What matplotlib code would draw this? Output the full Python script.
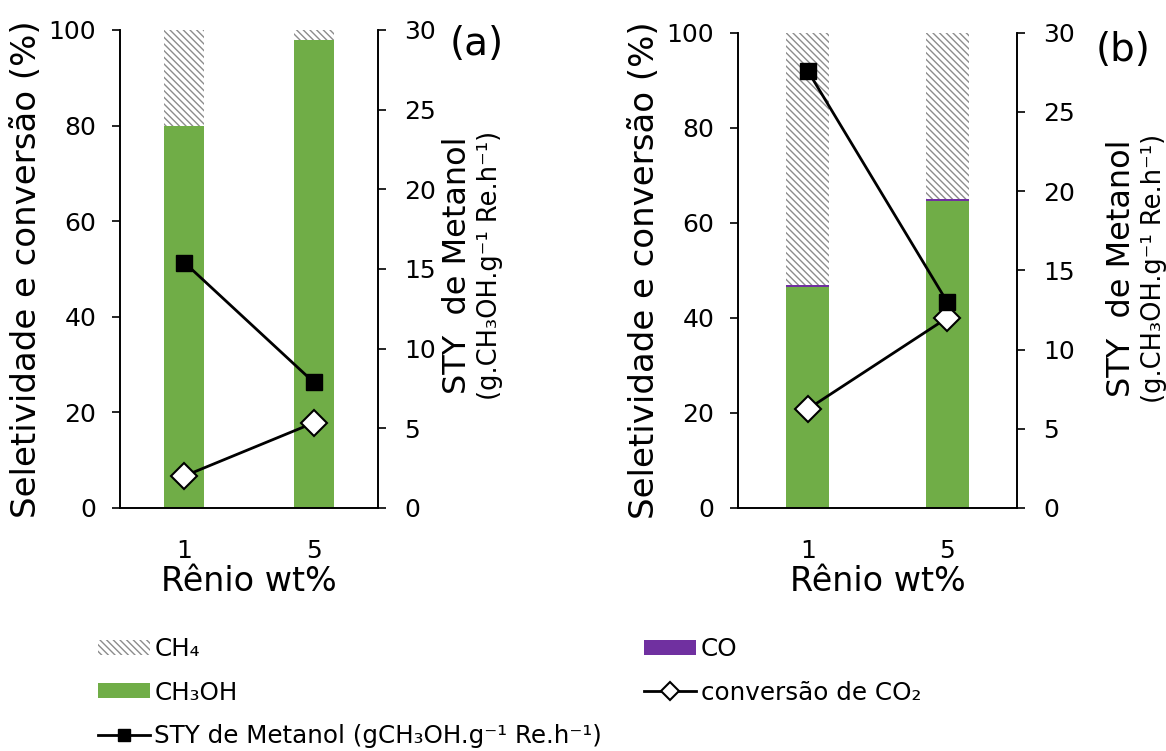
import numpy as np
import matplotlib
matplotlib.use('Agg')
import matplotlib.pyplot as plt

plt.rcParams['font.family'] = ['DejaVu Sans']
plt.rcParams['hatch.linewidth'] = 1.0

# data
renio = ['1', '5']
ch3oh_a = [80.0, 97.8]
co_a = [0.0, 0.0]
ch4_a = [20.0, 2.2]
sty_a = [15.4, 7.9]
conv_a = [6.7, 17.8]

ch3oh_b = [46.5, 64.6]
co_b = [0.5, 0.4]
ch4_b = [53.0, 35.0]
sty_b = [27.6, 13.0]
conv_b = [20.8, 40.0]

green = '#70AD47'
purple = '#7030A0'

fig = plt.figure(figsize=(11.66, 7.51), dpi=100)
ax_a = fig.add_axes([0.1029, 0.3236, 0.2213, 0.6365])
ax_b = fig.add_axes([0.6329, 0.3236, 0.2393, 0.6329])


def panel(ax, ch3oh, co, ch4, sty, conv):
    x = np.arange(len(renio))
    w = 0.31
    b1 = ax.bar(x, ch3oh, w, color=green, label='CH\u2083OH', zorder=2)
    b2 = ax.bar(x, co, w, bottom=ch3oh, color=purple, label='CO', zorder=2)
    bot = np.array(ch3oh) + np.array(co)
    b3 = ax.bar(x, ch4, w, bottom=bot, facecolor='white', edgecolor='#8c8c8c',
                linewidth=0, hatch='\\\\\\\\\\', label='CH\u2084', zorder=2)
    ax.set_ylim(0, 100)
    ax.set_xlim(-0.5, 1.5)
    ax.set_yticks(np.arange(0, 101, 20))
    ax.set_xticks(x)
    ax.set_xticklabels(renio)
    ax.tick_params(axis='x', length=0, labelsize=18, pad=22)
    ax.tick_params(axis='y', direction='out', length=6, width=1.2, labelsize=18, pad=11)
    ax.spines['top'].set_visible(False)
    for s in ['left', 'bottom', 'right']:
        ax.spines[s].set_linewidth(1.2)
    ax.set_xlabel('R\u00eanio wt%', fontsize=24, labelpad=2)
    ax.set_ylabel('Seletividade e convers\u00e3o (%)', fontsize=24.5, labelpad=4)

    l2, = ax.plot(x, conv, color='black', lw=2, marker='D', markersize=13,
                  markerfacecolor='white', markeredgecolor='black', markeredgewidth=1.5,
                  label='convers\u00e3o de CO\u2082', zorder=4)

    ax2 = ax.twinx()
    ax2.set_ylim(0, 30)
    ax2.set_yticks(np.arange(0, 31, 5))
    ax2.tick_params(axis='y', direction='out', length=6, width=1.2, labelsize=18, pad=13)
    ax2.spines['top'].set_visible(False)
    for s in ['left', 'bottom', 'right']:
        ax2.spines[s].set_linewidth(1.2)
    l1, = ax2.plot(x, sty, color='black', lw=2, marker='s', markersize=12,
                   label='STY de Metanol (gCH\u2083OH.g\u207b\u00b9 Re.h\u207b\u00b9)', zorder=5)
    return b3, b2, b1, l2, l1


hs = panel(ax_a, ch3oh_a, co_a, ch4_a, sty_a, conv_a)
panel(ax_b, ch3oh_b, co_b, ch4_b, sty_b, conv_b)

# right axis labels (two lines, second smaller)
for xa, xb, yc in [(457, 490, 265), (1122, 1154, 268)]:
    fig.text(xa / 1166, 1 - yc / 751, 'STY  de Metanol', rotation=90, fontsize=23,
             ha='center', va='center')
    fig.text(xb / 1166, 1 - yc / 751, '(g.CH\u2083OH.g\u207b\u00b9 Re.h\u207b\u00b9)', rotation=90,
             fontsize=18.5, ha='center', va='center')

fig.text(477 / 1166, 1 - 44 / 751, '(a)', fontsize=28, ha='center', va='center')
fig.text(1123 / 1166, 1 - 50 / 751, '(b)', fontsize=28, ha='center', va='center')

ch4_h, co_h, ch3oh_h, conv_h, sty_h = hs
fig.legend([ch4_h, ch3oh_h, sty_h, co_h, conv_h],
           [h.get_label() for h in [ch4_h, ch3oh_h, sty_h, co_h, conv_h]],
           loc='upper left', bbox_to_anchor=(0.084, 0.152), ncol=2, frameon=False,
           fontsize=17.7, borderpad=0, borderaxespad=0, handlelength=2.1,
           handleheight=0.55, handletextpad=0.2, labelspacing=0.8, columnspacing=1.7,
           markerscale=0.7)

fig.savefig('out.png', dpi=100)
